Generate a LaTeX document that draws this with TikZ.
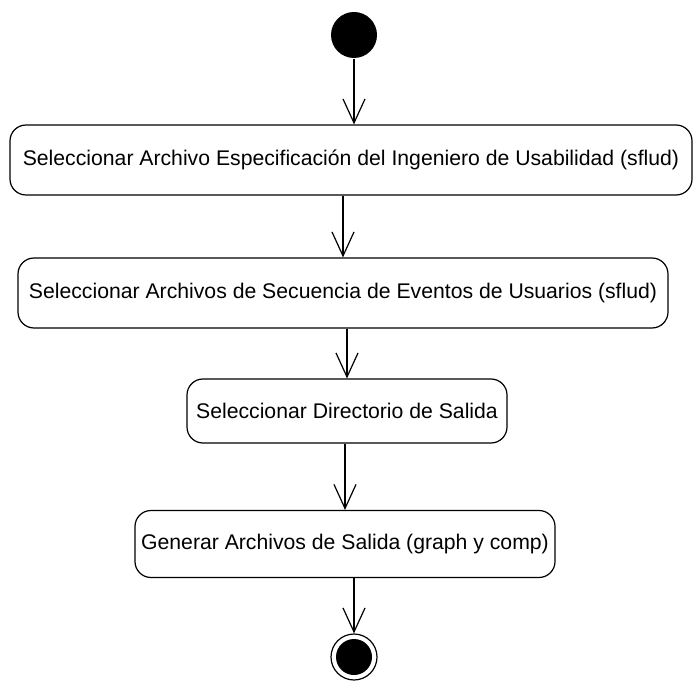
\documentclass[tikz,border=0pt]{standalone}
\usepackage{fontspec}
\setmainfont{Liberation Sans}
\usetikzlibrary{arrows.meta}

\begin{document}
\begin{tikzpicture}[x=1pt,y=-1pt,line width=1.2pt,
	act/.style={draw,rounded corners=16pt,inner sep=0pt,font=\fontsize{21.2}{25}\selectfont},
	flow/.style={-{Straight Barb[length=24pt,width=22pt]}}]
	\useasboundingbox (0,0) rectangle (693,684);

	\node[fill=black,circle,minimum size=46pt,inner sep=0pt] (start) at (354,35) {};

	\node[act,minimum width=682pt,minimum height=70pt] (A) at (351,160) {Seleccionar Archivo Especificación del Ingeniero de Usabilidad (sflud)};
	\node[act,minimum width=650pt,minimum height=70pt] (B) at (343,293) {Seleccionar Archivos de Secuencia de Eventos de Usuarios (sflud)};
	\node[act,minimum width=320pt,minimum height=64pt] (C) at (347,411) {Seleccionar Directorio de Salida};
	\node[act,minimum width=420pt,minimum height=67pt] (D) at (345,544) {Generar Archivos de Salida (graph y comp)};

	\node[draw,circle,minimum size=46pt,inner sep=0pt] (stop) at (354,657) {};
	\fill (stop) circle (18pt);

	\draw[flow] (start) -- (start |- A.north);
	\draw[flow] (A.south -| B) -- (B);
	\draw[flow] (B.south -| C) -- (C);
	\draw[flow] (C.south -| D) -- (D);
	\draw[flow] (D.south -| stop) -- (stop);

\end{tikzpicture}
\end{document}
